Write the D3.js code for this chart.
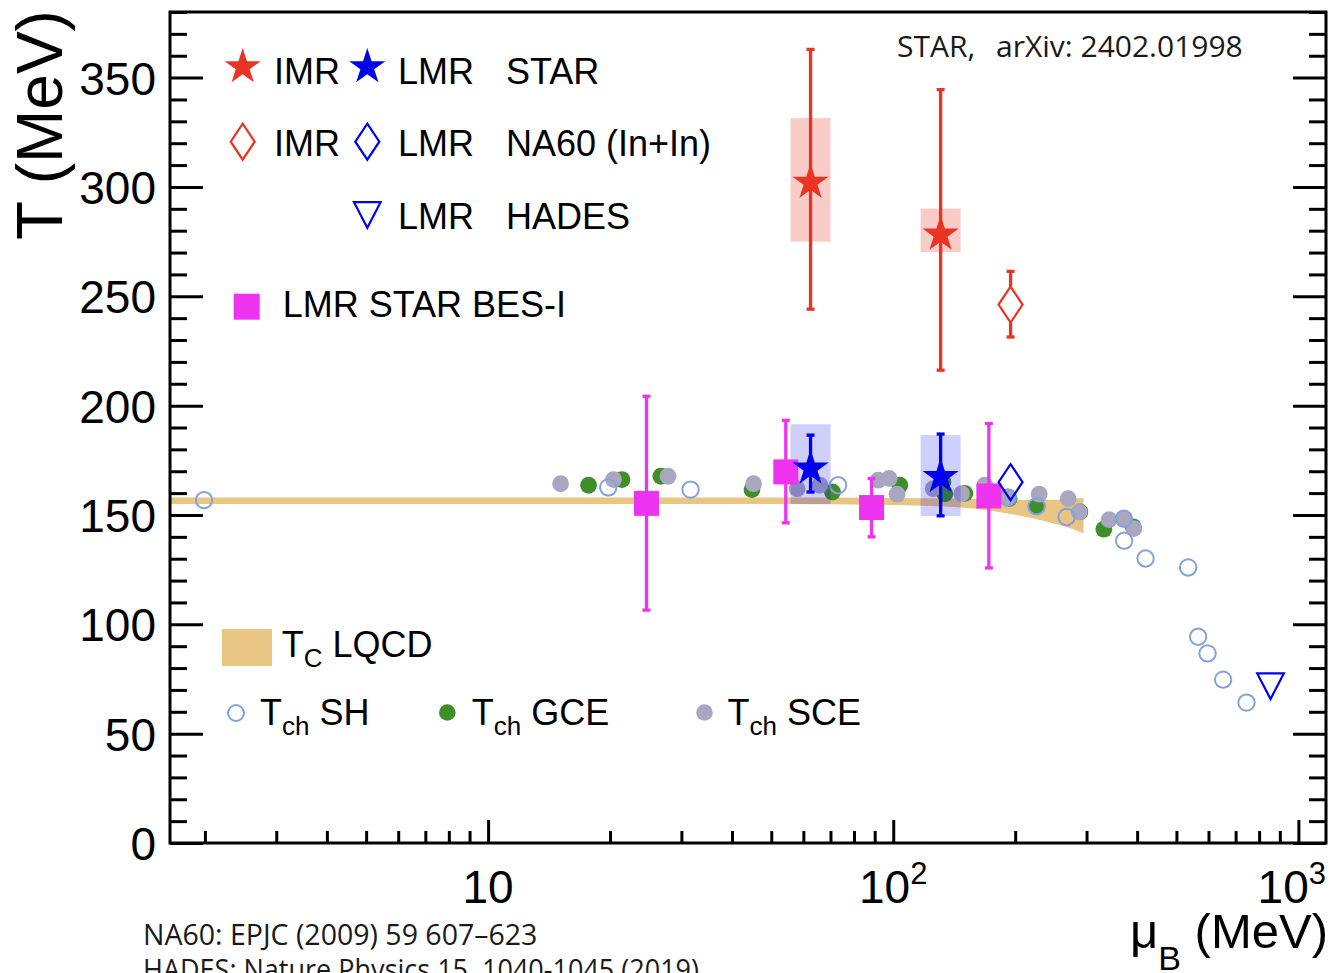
<!DOCTYPE html>
<html>
<head>
<meta charset="utf-8">
<script src="https://cdn.jsdelivr.net/npm/d3@7"></script>
<style>
  html, body { margin: 0; padding: 0; background: #fff; }
  svg { display: block; }
</style>
</head>
<body>
<div id="chart"></div>
<script>
// ---- values (muB in MeV, T in MeV) ----

// lattice QCD crossover band
const bandMu = [1.64, 50, 100, 130, 160, 190, 220, 250, 275, 295];
const bandHi = [158, 158, 157.8, 157.6, 157.3, 157, 156.8, 157, 157.3, 157.8];
const bandLo = [155, 155, 154.6, 154, 152.8, 150.8, 148.5, 146, 143.8, 141.5];

// chemical freeze-out, grand canonical
const gceMu = [17.7, 21.4, 26.7, 44.8, 70.8, 103.8, 132.6, 134.1, 150.3, 193.2, 225.8, 288.8, 331, 391];
const gceT  = [163.6, 166.2, 167.7, 161.6, 160.5, 163.6, 165.1, 159.7, 159.9, 157.5, 154, 151.4, 143.5, 144.6];

// chemical freeze-out, strangeness canonical
const sceMu = [15.1, 20.4, 27.8, 45.2, 57.9, 65.9, 91.8, 97.7, 102.2, 125.5, 147.5, 168.3, 191.1, 229.2, 270.3, 287.7, 341.1, 370.9, 392.6];
const sceT  = [164.3, 166.2, 167.7, 164.3, 162, 163.6, 165.9, 166.7, 159.5, 162, 159.7, 163.6, 158.2, 159.5, 157.5, 151.4, 147.9, 148.3, 143.8];

// chemical freeze-out, statistical hadronization
const shMu = [1.99, 19.8, 31.6, 73.1, 191.8, 225.8, 267.8, 370.9, 371.5, 419.6, 534.5, 565.7, 596.8, 652.1, 744.7];
const shT  = [156.8, 162.6, 161.6, 163.6, 158, 154, 149.1, 148.3, 138.2, 130.1, 126, 94.3, 86.7, 74.7, 64.2];

// STAR dielectron temperatures
const starMu = [62.5, 130.9];
const imrT = [302, 278.3];
const imrLo = [244.1, 216.2];
const imrHi = [362.9, 344.5];
const imrSysLo = [275.0, 270.2];
const imrSysHi = [331.5, 290.1];
const lmrT = [171.3, 167.4];
const lmrLo = [160.5, 149.6];
const lmrHi = [186.5, 187];
const lmrSysLo = [155, 149.5];
const lmrSysHi = [191.5, 186.5];

// NA60 (In+In)
const na60Mu = [194.8];
const na60ImrT = [246.2];
const na60ImrLo = [231.4];
const na60ImrHi = [261.4];
const na60LmrT = [165.0];

// HADES
const hadesMu = [853.6];
const hadesT = [71.7];

// STAR BES-I LMR
const besMu = [24.6, 54.3, 88.4, 172.2];
const besT  = [155.3, 169.7, 153.4, 158.7];
const besLo = [106.5, 146.4, 140, 125.8];
const besHi = [204.3, 193.3, 166.7, 191.8];

// axis tick labels
const yTickLabels = [0, 50, 100, 150, 200, 250, 300, 350];
const xMajor = [10, 100, 1000];
const xMajorBase = ["10", "10", "10"];
const xMajorExp = ["", "2", "3"];

// ---- layout ----
const W = 1332, H = 973;
const FONT = "'Liberation Sans', Arial, Helvetica, sans-serif";
const CITE = "'Open Sans', 'Noto Sans', sans-serif";
const RED = "#ea3323", BLUE = "#0000f0", MAG = "#ee33ee";
const GREEN = "#3e8e29", GRAY = "#a9a6bf", SHC = "#86a0da", TAN = "#e8c582";

const x0 = 170, x1 = 1326, y0 = 843, y1 = 12;

const svg = d3.select("#chart").append("svg")
	.attr("width", W)
	.attr("height", H)
	.style("background", "#fff");

const x = d3.scaleLog().domain([1.64, 1170]).range([x0, x1]);
const y = d3.scaleLinear().domain([0, 380]).range([y0, y1]);

svg.append("clipPath").attr("id", "plotclip")
	.append("rect").attr("x", x0).attr("y", y1).attr("width", x1 - x0).attr("height", y0 - y1);

const plot = svg.append("g").attr("clip-path", "url(#plotclip)");

// helpers
const zip = (mu, t) => mu.map((m, i) => ({ mu: m, t: t[i] }));
const starPath = d3.symbol().type(d3.symbolStar).size(405)();
const diamondPath = "M0,-18L12,0L0,18L-12,0Z";
const triPath = "M-13.3,-12.8L13.3,-12.8L0,12.8Z";

// LQCD band
const bandRows = bandMu.map((m, i) => ({ mu: m, lo: bandLo[i], hi: bandHi[i] }));
plot.append("path")
	.datum(bandRows)
	.attr("fill", TAN)
	.attr("d", d3.area()
		.x(d => x(d.mu))
		.y0(d => y(d.lo))
		.y1(d => y(d.hi))
		.curve(d3.curveMonotoneX));

// freeze-out points
plot.append("g").selectAll("circle")
	.data(zip(gceMu, gceT)).enter().append("circle")
	.attr("cx", d => x(d.mu)).attr("cy", d => y(d.t)).attr("r", 8.4)
	.attr("fill", GREEN);

plot.append("g").selectAll("circle")
	.data(zip(sceMu, sceT)).enter().append("circle")
	.attr("cx", d => x(d.mu)).attr("cy", d => y(d.t)).attr("r", 8.4)
	.attr("fill", GRAY);

plot.append("g").selectAll("circle")
	.data(zip(shMu, shT)).enter().append("circle")
	.attr("cx", d => x(d.mu)).attr("cy", d => y(d.t)).attr("r", 8.2)
	.attr("fill", "none").attr("stroke", SHC).attr("stroke-width", 2);

// systematic boxes
function sysBoxes(mu, lo, hi, color, op) {
	plot.append("g").selectAll("rect")
		.data(mu.map((m, i) => ({ mu: m, lo: lo[i], hi: hi[i] }))).enter().append("rect")
		.attr("x", d => x(d.mu) - 20)
		.attr("width", 40)
		.attr("y", d => y(d.hi))
		.attr("height", d => y(d.lo) - y(d.hi))
		.attr("fill", color)
		.attr("fill-opacity", op);
}
sysBoxes(starMu, imrSysLo, imrSysHi, RED, 0.25);
sysBoxes(starMu, lmrSysLo, lmrSysHi, BLUE, 0.19);

// statistical error bars; gap leaves the inside of open markers clear
function errorBars(mu, t, lo, hi, color, gap) {
	const rows = mu.map((m, i) => ({ mu: m, t: t[i], lo: lo[i], hi: hi[i] }));
	const g = plot.append("g").attr("stroke", color).attr("stroke-width", 3.3).attr("fill", "none");
	rows.forEach(d => {
		const cx = x(d.mu), cy = y(d.t);
		const segs = gap ? [[y(d.hi), cy - gap], [cy + gap, y(d.lo)]] : [[y(d.hi), y(d.lo)]];
		segs.forEach(s => g.append("line")
			.attr("x1", cx).attr("x2", cx).attr("y1", s[0]).attr("y2", s[1]));
		[d.hi, d.lo].forEach(v => g.append("line")
			.attr("x1", cx - 4).attr("x2", cx + 4).attr("y1", y(v)).attr("y2", y(v)));
	});
}
errorBars(besMu, besT, besLo, besHi, MAG, 0);
errorBars(starMu, imrT, imrLo, imrHi, RED, 0);
errorBars(starMu, lmrT, lmrLo, lmrHi, BLUE, 0);
errorBars(na60Mu, na60ImrT, na60ImrLo, na60ImrHi, RED, 18);

// markers
plot.append("g").selectAll("rect")
	.data(zip(besMu, besT)).enter().append("rect")
	.attr("x", d => x(d.mu) - 12.5).attr("y", d => y(d.t) - 12.5)
	.attr("width", 25).attr("height", 25)
	.attr("fill", MAG);

function markers(mu, t, path, fill, stroke) {
	plot.append("g").selectAll("path")
		.data(zip(mu, t)).enter().append("path")
		.attr("transform", d => `translate(${x(d.mu)},${y(d.t)})`)
		.attr("d", path)
		.attr("fill", fill)
		.attr("stroke", stroke)
		.attr("stroke-width", stroke === "none" ? 0 : 2.2);
}
markers(starMu, imrT, starPath, RED, "none");
markers(starMu, lmrT, starPath, BLUE, "none");
markers(na60Mu, na60ImrT, diamondPath, "none", RED);
markers(na60Mu, na60LmrT, diamondPath, "none", BLUE);
markers(hadesMu, hadesT, triPath, "none", BLUE);

// ---- axes ----
const yTicks = d3.range(0, 381, 10);
const yAxisL = svg.append("g")
	.attr("transform", `translate(${x0},0)`)
	.call(d3.axisLeft(y).tickValues(yTicks).tickSize(-17).tickSizeOuter(0).tickPadding(14)
		.tickFormat(d => yTickLabels.includes(d) ? d : ""));
yAxisL.select(".domain").remove();
yAxisL.selectAll(".tick line")
	.attr("stroke", "#000").attr("stroke-width", 3)
	.attr("x2", d => d % 50 === 0 ? 33 : 17);
yAxisL.selectAll(".tick text")
	.attr("font-family", FONT).attr("font-size", 46).attr("fill", "#000").attr("dy", "0.36em");

const yAxisR = svg.append("g")
	.attr("transform", `translate(${x1},0)`)
	.call(d3.axisRight(y).tickValues(yTicks).tickSize(-17).tickSizeOuter(0).tickFormat(""));
yAxisR.select(".domain").remove();
yAxisR.selectAll(".tick line")
	.attr("stroke", "#000").attr("stroke-width", 3)
	.attr("x2", d => d % 50 === 0 ? -33 : -17);

const xMinor = [1, 10, 100].flatMap(k => d3.range(2, 10).map(v => v * k));
const xAxis = svg.append("g")
	.attr("transform", `translate(0,${y0})`)
	.call(d3.axisBottom(x).tickValues(xMinor.concat(xMajor)).tickSize(-12).tickSizeOuter(0).tickFormat(""));
xAxis.select(".domain").remove();
xAxis.selectAll(".tick line")
	.attr("stroke", "#000").attr("stroke-width", 3)
	.attr("y2", d => xMajor.includes(d) ? -23 : -12);

const xLab = svg.append("g").attr("font-family", FONT).attr("fill", "#000");
xMajor.forEach((v, i) => {
	const t = xLab.append("text")
		.attr("x", x(v)).attr("y", 903)
		.attr("text-anchor", "middle")
		.attr("font-size", 46);
	t.append("tspan").text(xMajorBase[i]);
	if (xMajorExp[i]) {
		t.append("tspan").attr("font-size", 31).attr("dy", -19).text(xMajorExp[i]);
	}
	// keep the last label inside the canvas, as in the figure
	const bb = t.node().getBBox();
	if (bb.x + bb.width > W - 6) t.attr("x", x(v) - (bb.x + bb.width - (W - 6)));
});

// frame
svg.append("rect")
	.attr("x", x0).attr("y", y1).attr("width", x1 - x0).attr("height", y0 - y1)
	.attr("fill", "none").attr("stroke", "#000").attr("stroke-width", 3);

// axis titles
svg.append("text")
	.attr("transform", "translate(62,240) rotate(-90)")
	.attr("font-family", FONT).attr("font-size", 64).attr("fill", "#000")
	.text("T (MeV)");

const xt = svg.append("text")
	.attr("x", 1328).attr("y", 948)
	.attr("text-anchor", "end")
	.attr("font-family", FONT).attr("font-size", 49).attr("fill", "#000");
xt.append("tspan").text("μ");
xt.append("tspan").attr("font-size", 34).attr("dy", 22).text("B");
xt.append("tspan").attr("dy", -22).text(" (MeV)");

// ---- legend ----
const leg = svg.append("g").attr("font-family", FONT).attr("font-size", 36).attr("fill", "#000");

leg.append("path").attr("transform", "translate(242.7,67)").attr("d", starPath).attr("fill", RED);
leg.append("path").attr("transform", "translate(367.3,67)").attr("d", starPath).attr("fill", BLUE);
leg.append("path").attr("transform", "translate(242.7,141.7)").attr("d", diamondPath)
	.attr("fill", "none").attr("stroke", RED).attr("stroke-width", 2.2);
leg.append("path").attr("transform", "translate(367.3,141.7)").attr("d", diamondPath)
	.attr("fill", "none").attr("stroke", BLUE).attr("stroke-width", 2.2);
leg.append("path").attr("transform", "translate(367.3,215)").attr("d", triPath)
	.attr("fill", "none").attr("stroke", BLUE).attr("stroke-width", 2.2);
leg.append("rect").attr("x", 233.7).attr("y", 293.7).attr("width", 26).attr("height", 26).attr("fill", MAG);

leg.append("text").attr("x", 274).attr("y", 84.3).text("IMR");
leg.append("text").attr("x", 398).attr("y", 84.3).text("LMR");
leg.append("text").attr("x", 506).attr("y", 84.3).text("STAR");
leg.append("text").attr("x", 274).attr("y", 156).text("IMR");
leg.append("text").attr("x", 398).attr("y", 156).text("LMR");
leg.append("text").attr("x", 506).attr("y", 156).text("NA60 (In+In)");
leg.append("text").attr("x", 398).attr("y", 229.3).text("LMR");
leg.append("text").attr("x", 506).attr("y", 229.3).text("HADES");
leg.append("text").attr("x", 282.7).attr("y", 317.3).text("LMR STAR BES-I");

leg.append("rect").attr("x", 222).attr("y", 629).attr("width", 50).attr("height", 37).attr("fill", TAN);
function subLabel(xp, yp, main, sub, rest) {
	const t = leg.append("text").attr("x", xp).attr("y", yp);
	t.append("tspan").text(main);
	t.append("tspan").attr("font-size", 26).attr("dy", 10).text(sub);
	t.append("tspan").attr("dy", -10).text(" " + rest);
}
subLabel(281.7, 656.7, "T", "C", "LQCD");

leg.append("circle").attr("cx", 236).attr("cy", 713).attr("r", 8)
	.attr("fill", "none").attr("stroke", SHC).attr("stroke-width", 2);
subLabel(260, 725, "T", "ch", "SH");
leg.append("circle").attr("cx", 447.3).attr("cy", 712.5).attr("r", 8.3).attr("fill", GREEN);
subLabel(471.7, 725, "T", "ch", "GCE");
leg.append("circle").attr("cx", 704.5).attr("cy", 712.5).attr("r", 8.3).attr("fill", GRAY);
subLabel(727.5, 725, "T", "ch", "SCE");

// ---- references ----
const cite = svg.append("g").attr("font-family", CITE).attr("font-size", 30).attr("fill", "#1a1a1a");
cite.append("text").attr("x", 897).attr("y", 57).text("STAR,");
cite.append("text").attr("x", 996).attr("y", 57).text("arXiv: 2402.01998");
cite.append("text").attr("x", 143).attr("y", 945).attr("font-size", 28.5).text("NA60: EPJC (2009) 59 607–623");
cite.append("text").attr("x", 143).attr("y", 980).attr("font-size", 28.5)
	.attr("textLength", 556).attr("lengthAdjust", "spacingAndGlyphs")
	.text("HADES: Nature Physics 15, 1040-1045 (2019)");
</script>
</body>
</html>
